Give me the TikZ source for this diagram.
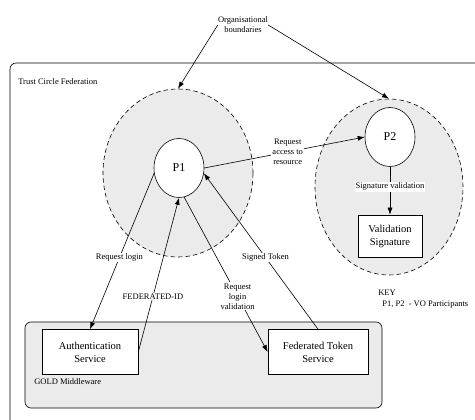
\documentclass[tikz,border=0pt]{standalone}
\usepackage{fontspec}
\setmainfont{Liberation Serif}
\usetikzlibrary{arrows.meta,shapes.geometric}
\definecolor{Shade}{HTML}{EBEBEB}
\tikzset{
  lbl/.style={fill=white,inner sep=1pt,align=center,font=\fontsize{8.5}{10}\selectfont},
  txt/.style={inner sep=0pt,align=left,font=\fontsize{8.5}{10}\selectfont},
  svc/.style={draw,fill=white,align=center,inner sep=2pt,font=\fontsize{10.5}{13}\selectfont},
  orgb/.style={draw,dash pattern=on 4.5pt off 3pt,fill=Shade,ellipse,inner sep=0pt},
  part/.style={draw,fill=white,ellipse,inner sep=0pt,font=\fontsize{12}{14}\selectfont},
  flow/.style={-{Latex[length=7pt,width=5pt]}}
}
\begin{document}
\begin{tikzpicture}[x=1pt,y=-1pt,line width=.6pt]
\clip(0,0)rectangle(475,420);
\fill[white](0,0)rectangle(475,420);
% frames
\draw[rounded corners=6pt](10,63)rectangle(495,440);
\node[txt,anchor=west](tcf)at(18,82){Trust Circle Federation};
\draw[fill=Shade,rounded corners=6pt](25,322)rectangle(382,408);
\node[txt,anchor=west](gold)at(34,382){GOLD Middleware};
% organisational boundaries
\node[orgb,minimum width=150,minimum height=168](b1)at(178,173){};
\node[orgb,minimum width=148,minimum height=176](b2)at(389,187){};
\node[txt,align=center](orgtxt)at(243,25){Organisational\\boundaries};
\draw[flow](orgtxt.west)--(b1.north);
\draw[flow](orgtxt.east)--(b2.north);
% participants and services
\node[part,minimum width=50,minimum height=59](p1)at(179,168){P1};
\node[part,minimum width=50,minimum height=59](p2)at(390,137){P2};
\node[svc,minimum width=64,minimum height=42](vsig)at(390,236){Validation\\Signature};
\node[svc,minimum width=96,minimum height=45](auth)at(90,352){Authentication\\Service};
\node[svc,minimum width=100,minimum height=45](fts)at(318,352){Federated Token\\Service};
% flows
\draw[flow](p1.east)--node[lbl,pos=.52]{Request\\access to\\resource}(p2.west);
\draw[flow](p2.south)--node[lbl,pos=.42]{Signature validation}(vsig.north);
\draw[flow](p1.192)--node[lbl,pos=.54]{Request login}(auth.north);
\draw[flow](auth.east)--node[lbl,pos=.36]{FEDERATED-ID}(p1.south);
\draw[flow](p1.-80)--node[lbl,pos=.64]{Request\\login\\validation}(fts.west);
\draw[flow](fts.north)--node[lbl,pos=.46]{Signed Token}(p1.-12);
% key
\node[txt,anchor=west](key)at(378,293){KEY};
\node[txt,anchor=west](keyp)at(382,305){P1, P2\ \ - VO Participants};
\end{tikzpicture}
\end{document}
